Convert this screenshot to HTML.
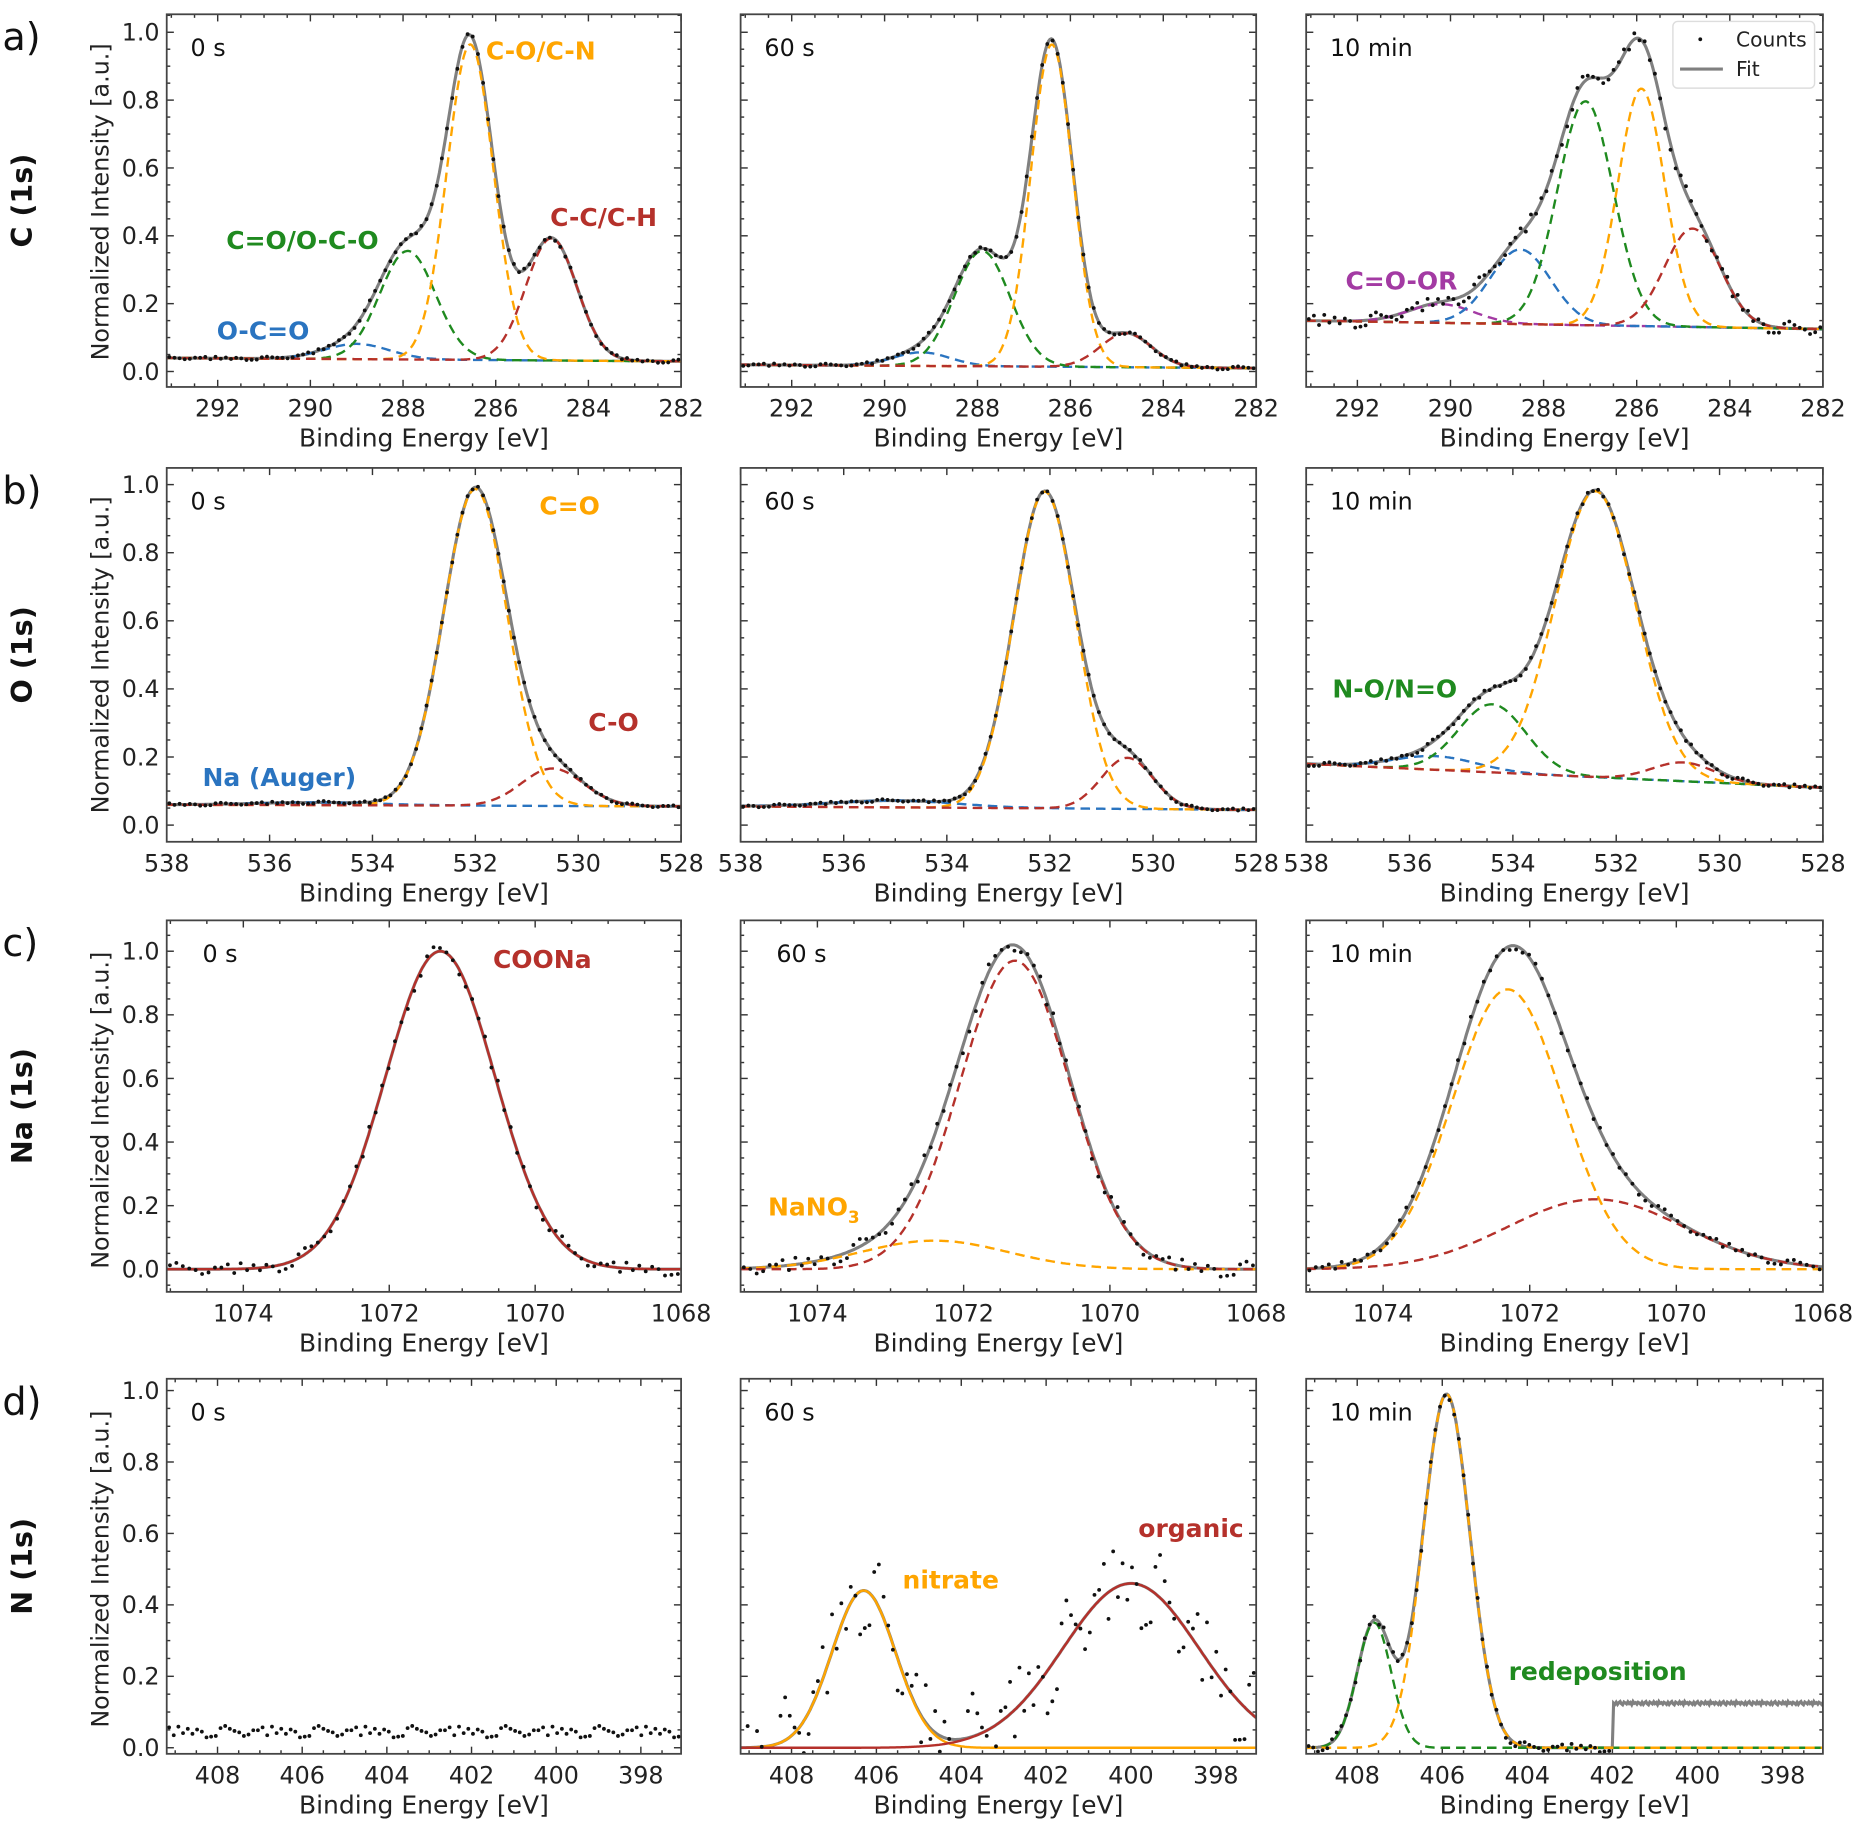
<!DOCTYPE html>
<html><head><meta charset="utf-8"><style>
html,body{margin:0;padding:0;background:#fff}
svg{display:block}
text{font-family:"DejaVu Sans","Liberation Sans",sans-serif}
</style></head><body>
<svg id="fig" xmlns="http://www.w3.org/2000/svg" width="1867" height="1828" viewBox="0 0 1568 1535.3"></svg>
<script>
// ---- data ----
const colX=[[140,572],[622,1055],[1097,1531]];
const rowY=[[12,325],[393,707],[773,1085],[1158,1473]];
const rowXlim=[[293.1,282],[538,528],[1075.05,1068],[409.2,397.05]];
const rowYlim=[[-0.0456,1.053],[-0.049,1.049],[-0.071,1.097],[-0.017,1.033]];
const rowXticks=[[292,290,288,286,284,282],[538,536,534,532,530,528],[1074,1072,1070,1068],[408,406,404,402,400,398]];
const yTicks=[0.0,0.2,0.4,0.6,0.8,1.0];
const timeLabels=["0 s","60 s","10 min"];
const rowNames=["C (1s)","O (1s)","Na (1s)","N (1s)"];
const rowLetters=["a)","b)","c)","d)"];
const noise=[0.004,-0.006,0.002,0.007,-0.003,-0.008,0.005,0.001,-0.004,0.006,-0.002,0.003,-0.007,0.008,-0.001,0.002,-0.005,0.004,0.0,-0.006];
const COL={blue:"#2a74c0",green:"#1f8a1f",orange:"#ffa500",red:"#b5312b",purple:"#a33aa3",gray:"#808080"};
// panel component arrays: centers, heights (above baseline), widths (sigma), colors
const c0_centers=[289.0,287.9,286.55,284.8], c0_heights=[0.045,0.32,0.93,0.36], c0_widths=[0.7,0.6,0.5,0.55], c0_colors=["blue","green","orange","red"];
const c1_centers=[289.2,287.9,286.4,284.8], c1_heights=[0.04,0.34,0.95,0.1], c1_widths=[0.6,0.6,0.45,0.55], c1_colors=["blue","green","orange","red"];
const c2_centers=[290.2,288.5,287.1,285.9,284.8], c2_heights=[0.055,0.22,0.66,0.7,0.29], c2_widths=[0.7,0.65,0.6,0.5,0.6], c2_colors=["purple","blue","green","orange","red"];
const o0_centers=[535,532.0,530.5], o0_heights=[0.008,0.93,0.11], o0_widths=[1.2,0.62,0.6], o0_colors=["blue","orange","red"];
const o1_centers=[535,532.1,530.5], o1_heights=[0.02,0.93,0.15], o1_widths=[1.2,0.6,0.5], o1_colors=["blue","orange","red"];
const o2_centers=[535.5,534.4,532.4,530.7], o2_heights=[0.04,0.2,0.84,0.055], o2_widths=[0.8,0.65,0.78,0.6], o2_colors=["blue","green","orange","red"];
const na0_centers=[1071.3], na0_heights=[1.0], na0_widths=[0.75], na0_colors=["red"];
const na1_centers=[1072.4,1071.3], na1_heights=[0.09,0.97], na1_widths=[1.0,0.75], na1_colors=["orange","red"];
const na2_centers=[1072.3,1071.1], na2_heights=[0.88,0.22], na2_widths=[0.75,1.2], na2_colors=["orange","red"];
const n0_centers=[], n0_heights=[], n0_widths=[], n0_colors=[];
const n1_centers=[406.3,400.0], n1_heights=[0.44,0.46], n1_widths=[0.75,1.6], n1_colors=["orange","red"];
const n2_centers=[407.6,405.9], n2_heights=[0.35,0.99], n2_widths=[0.4,0.55], n2_colors=["green","orange"];
const baselines=[[0.04,0.03],[0.02,0.01],[0.15,0.125],[0.06,0.055],[0.055,0.045],[0.18,0.11],[0,0],[0,0],[0,0],[0.045,0.045],[0,0],[0,0]];
const noiseScale=[0.6,0.6,2.5,0.5,0.5,0.8,2.5,3,1.5,2,15,1.5];
const stepEnergy=402, stepHeight=0.125;
const panelData=[
 [c0_centers,c0_heights,c0_widths,c0_colors],[c1_centers,c1_heights,c1_widths,c1_colors],[c2_centers,c2_heights,c2_widths,c2_colors],
 [o0_centers,o0_heights,o0_widths,o0_colors],[o1_centers,o1_heights,o1_widths,o1_colors],[o2_centers,o2_heights,o2_widths,o2_colors],
 [na0_centers,na0_heights,na0_widths,na0_colors],[na1_centers,na1_heights,na1_widths,na1_colors],[na2_centers,na2_heights,na2_widths,na2_colors],
 [n0_centers,n0_heights,n0_widths,n0_colors],[n1_centers,n1_heights,n1_widths,n1_colors],[n2_centers,n2_heights,n2_widths,n2_colors]];
const annotations=[
 [0,"C-O/C-N",408,50,"orange"],[0,"C-C/C-H",462,190,"red"],[0,"C=O/O-C-O",190,209,"green"],[0,"O-C=O",182,285,"blue"],
 [2,"C=O-OR",1130,243,"purple"],
 [3,"C=O",453,432,"orange"],[3,"C-O",494,614,"red"],[3,"Na (Auger)",170,660,"blue"],
 [5,"N-O/N=O",1119,586,"green"],
 [6,"COONa",414,813,"red"],
 [10,"nitrate",758,1334,"orange"],[10,"organic",956,1291,"red"],
 [11,"redeposition",1267,1411,"green"]];

// ---- drawing ----
const NS="http://www.w3.org/2000/svg";
const svg=document.getElementById("fig");
function mk(tag,attrs,parent){const e=document.createElementNS(NS,tag);for(const k in attrs)e.setAttribute(k,attrs[k]);(parent||svg).appendChild(e);return e;}
function txt(s,attrs,parent){const e=mk("text",attrs,parent);e.textContent=s;return e;}

for(let r=0;r<4;r++){
 const letter=txt(rowLetters[r],{x:2,y:rowY[r][0]+30,"font-size":32,fill:"#111"});
 
 
 const cy=(rowY[r][0]+rowY[r][1])/2;
 const rn=txt(rowNames[r],{x:0,y:0,"font-size":24,"font-weight":"bold","text-anchor":"middle",transform:`translate(27,${cy}) rotate(-90)`,fill:"#111"});
 
 
 for(let c=0;c<3;c++){
  const idx=r*3+c;
  const [x0,x1]=colX[c],[y0,y1]=rowY[r];
  const [xa,xb]=rowXlim[r],[ya,yb]=rowYlim[r];
  const sx=v=>x0+(v-xa)/(xb-xa)*(x1-x0);
  const sy=v=>y1-(v-ya)/(yb-ya)*(y1-y0);
  const g=mk("g",{});
  
  
  const clipId="clip"+idx;
  const cp=mk("clipPath",{id:clipId},g);mk("rect",{x:x0,y:y0,width:x1-x0,height:y1-y0},cp);
  const lo=Math.min(xa,xb),hi=Math.max(xa,xb);
  for(let v=Math.ceil(lo*2)/2;v<=hi+1e-9;v+=0.5){
   const major=Math.abs(v/2-Math.round(v/2))<1e-6;const L=major?6:3;const px=sx(v);
   mk("line",{x1:px,x2:px,y1:y1,y2:y1-L,stroke:"#333","stroke-width":1.2},g);
   mk("line",{x1:px,x2:px,y1:y0,y2:y0+L,stroke:"#333","stroke-width":1.2},g);
  }
  rowXticks[r].forEach(v=>{const t=txt(String(v),{x:sx(v),y:y1+25,"font-size":20,"text-anchor":"middle",fill:"#222"},g);
   });
  for(let k=Math.ceil(ya*20);k<=Math.floor(yb*20);k++){
   const v=k/20;const major=k%4===0;const L=major?6:3;const py=sy(v);
   mk("line",{x1:x0,x2:x0+L,y1:py,y2:py,stroke:"#333","stroke-width":1.2},g);
   mk("line",{x1:x1,x2:x1-L,y1:py,y2:py,stroke:"#333","stroke-width":1.2},g);
  }
  if(c===0){
   yTicks.forEach(v=>{const t=txt(v.toFixed(1),{x:x0-6,y:sy(v)+7,"font-size":20,"text-anchor":"end",fill:"#222"},g);
    });
   const yl=txt("Normalized Intensity [a.u.]",{x:0,y:0,"font-size":20,"text-anchor":"middle",fill:"#222",transform:`translate(91,${sy(0.5)}) rotate(-90)`},g);
   
  }
  const xl=txt("Binding Energy [eV]",{x:(x0+x1)/2,y:y1+50,"font-size":21,"text-anchor":"middle",fill:"#222"},g);
  
  const [cen,hgt,wid,cols]=panelData[idx];
  const [b0,b1]=baselines[idx];
  const base=x=>b0+(b1-b0)*(x-xa)/(xb-xa);
  const comp=(i,x)=>hgt[i]*Math.exp(-0.5*Math.pow((x-cen[i])/wid[i],2));
  const fit=x=>{let s=base(x);for(let i=0;i<cen.length;i++)s+=comp(i,x);if(idx===11&&x<stepEnergy)s+=stepHeight;return s;};
  const N=400;const plot=mk("g",{"clip-path":`url(#${clipId})`},g);
  if(idx!==9){
   let d="";for(let k=0;k<=N;k++){const x=xa+(xb-xa)*k/N;let v=fit(x);if(idx===11&&x<stepEnergy)v+=noise[k%noise.length]*0.6;
    d+=(k?"L":"M")+sx(x).toFixed(1)+","+sy(v).toFixed(1);}
   const fp=mk("path",{d,fill:"none",stroke:COL.gray,"stroke-width":2.6},plot);
   
  }
  for(let i=0;i<cen.length;i++){
   let d="";for(let k=0;k<=N;k++){const x=xa+(xb-xa)*k/N;d+=(k?"L":"M")+sx(x).toFixed(1)+","+sy(base(x)+comp(i,x)).toFixed(1);}
   const attrs={d,fill:"none",stroke:COL[cols[i]],"stroke-width":2};
   if(!(idx===6||idx===10))attrs["stroke-dasharray"]="8,5";
   const p=mk("path",attrs,plot);
   
  }
  const nPts=(r===2)?80:(r===3?110:100);
  for(let k=0;k<nPts;k++){
   const x=xa+(xb-xa)*(k+0.5)/nPts;
   if(idx===11&&x<stepEnergy)continue;
   const v=fit(x)+noise[(k*7+idx)%noise.length]*noiseScale[idx];
   const dt=mk("circle",{cx:sx(x).toFixed(1),cy:sy(v).toFixed(1),r:1.6,fill:"#111"},plot);
   
  }
  mk("rect",{x:x0,y:y0,width:x1-x0,height:y1-y0,fill:"none",stroke:"#444","stroke-width":1.5},g);
  const tl=txt(timeLabels[c],{x:x0+(r===2&&c<2?30:20),y:y0+35,"font-size":20,fill:"#111"},g);
  
 }
}
annotations.forEach(a=>{
 const t=txt(a[1],{x:a[2],y:a[3],"font-size":21,"font-weight":"bold",fill:COL[a[4]]});
 
});
const nano=txt("",{x:645,y:1021,"font-size":21,"font-weight":"bold",fill:COL.orange});

const ts1=mk("tspan",{},nano);ts1.textContent="NaNO";
const ts2=mk("tspan",{dy:6,"font-size":14},nano);ts2.textContent="3";
const lg=mk("g",{});

mk("rect",{x:1405,y:18,width:119,height:56,rx:4,fill:"#fff",stroke:"#ddd","stroke-width":1.2},lg);
mk("circle",{cx:1428,cy:33,r:1.6,fill:"#111"},lg);
txt("Counts",{x:1458,y:39,"font-size":17,fill:"#222"},lg);
mk("line",{x1:1411,x2:1447,y1:58,y2:58,stroke:COL.gray,"stroke-width":2.6},lg);
txt("Fit",{x:1458,y:64,"font-size":17,fill:"#222"},lg);
</script>
</body></html>
